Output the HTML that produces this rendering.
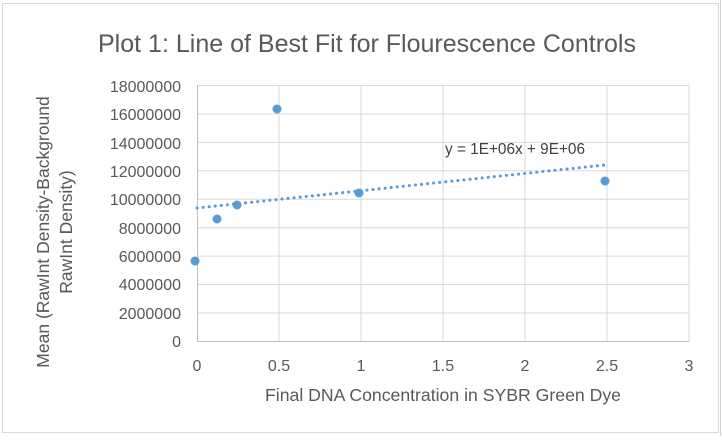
<!DOCTYPE html>
<html><head><style>body{margin:0;background:#fff}</style></head><body>
<svg width="722" height="436" xmlns="http://www.w3.org/2000/svg" font-family="Liberation Sans, sans-serif">
<rect width="722" height="436" fill="#fff"/>
<line x1="720.5" y1="0" x2="720.5" y2="436" stroke="#d0d0d0"/>
<rect x="2.5" y="3.5" width="716" height="429" fill="#fff" stroke="#d9d9d9"/>
<text x="367" y="52" text-anchor="middle" font-size="25" fill="#595959" textLength="538" lengthAdjust="spacingAndGlyphs">Plot 1: Line of Best Fit for Flourescence Controls</text>
<g stroke="#d9d9d9" stroke-width="1">
<line x1="197" y1="85.5" x2="689" y2="85.5"/><line x1="197" y1="113.9" x2="689" y2="113.9"/>
<line x1="197" y1="142.4" x2="689" y2="142.4"/><line x1="197" y1="170.8" x2="689" y2="170.8"/>
<line x1="197" y1="199.2" x2="689" y2="199.2"/><line x1="197" y1="227.7" x2="689" y2="227.7"/>
<line x1="197" y1="256.1" x2="689" y2="256.1"/><line x1="197" y1="284.5" x2="689" y2="284.5"/>
<line x1="197" y1="312.9" x2="689" y2="312.9"/>
<line x1="279" y1="85" x2="279" y2="341"/><line x1="361" y1="85" x2="361" y2="341"/>
<line x1="443" y1="85" x2="443" y2="341"/><line x1="525" y1="85" x2="525" y2="341"/>
<line x1="607" y1="85" x2="607" y2="341"/><line x1="689" y1="85" x2="689" y2="341"/>
</g>
<line x1="197" y1="341.5" x2="689" y2="341.5" stroke="#bfbfbf"/>
<line x1="197.5" y1="85" x2="197.5" y2="341" stroke="#bfbfbf"/>
<g font-size="16" fill="#595959" text-anchor="end">
<text x="181" y="347">0</text><text x="181" y="319">2000000</text><text x="181" y="290">4000000</text>
<text x="181" y="262">6000000</text><text x="181" y="234">8000000</text><text x="181" y="205">10000000</text>
<text x="181" y="177">12000000</text><text x="181" y="149">14000000</text><text x="181" y="120">16000000</text>
<text x="181" y="92">18000000</text>
</g>
<g font-size="16" fill="#595959" text-anchor="middle">
<text x="197" y="371">0</text><text x="279" y="371">0.5</text><text x="361" y="371">1</text>
<text x="443" y="371">1.5</text><text x="525" y="371">2</text><text x="607" y="371">2.5</text><text x="689" y="371">3</text>
</g>
<text x="443" y="401" text-anchor="middle" font-size="17.5" fill="#595959" textLength="356" lengthAdjust="spacingAndGlyphs">Final DNA Concentration in SYBR Green Dye</text>
<g font-size="17.5" fill="#595959" text-anchor="middle">
<text transform="translate(49,232) rotate(-90)">Mean (RawInt Density-Background</text>
<text transform="translate(72,232) rotate(-90)">RawInt Density)</text>
</g>
<line x1="197" y1="208" x2="605" y2="165" stroke="#5b9bd5" stroke-width="3" stroke-dasharray="0.1 6" stroke-linecap="round"/>
<text x="445" y="154" font-size="15.5" fill="#404040" textLength="140" lengthAdjust="spacingAndGlyphs">y = 1E+06x + 9E+06</text>
<g fill="#5b9bd5">
<circle cx="195" cy="261" r="4.5"/><circle cx="217" cy="219" r="4.5"/><circle cx="237" cy="205" r="4.5"/>
<circle cx="277" cy="109" r="4.5"/><circle cx="359" cy="193" r="4.5"/><circle cx="605" cy="181" r="4.5"/>
</g>
</svg>
</body></html>
